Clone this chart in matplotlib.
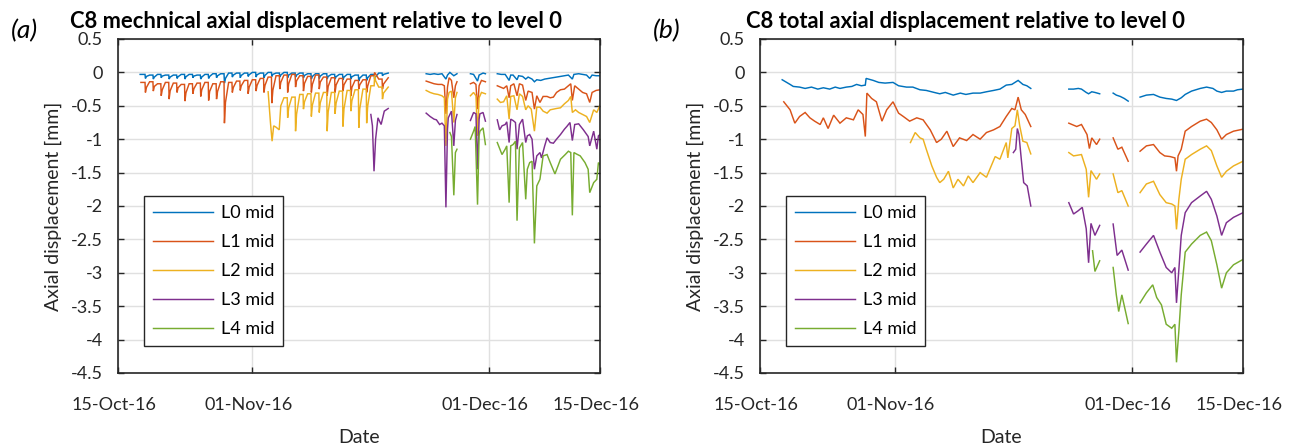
import numpy as np
import matplotlib
matplotlib.use('Agg')
import matplotlib.pyplot as plt
import matplotlib.dates as mdates
import matplotlib.transforms as mtransforms
from datetime import datetime

plt.rcParams['font.family'] = ['Lato', 'DejaVu Sans']

# ---------------- data ----------------
START = datetime(2016, 10, 15)
X_LIMITS = [datetime(2016, 10, 15), datetime(2016, 12, 15)]
X_TICK_DATES = [datetime(2016, 10, 15), datetime(2016, 11, 1), datetime(2016, 12, 1), datetime(2016, 12, 15)]
X_TICK_LABELS = ['15-Oct-16', '01-Nov-16', '01-Dec-16', '15-Dec-16']
Y_TICKS = [0.5, 0, -0.5, -1, -1.5, -2, -2.5, -3, -3.5, -4, -4.5]
Y_TICK_LABELS = ['0.5', '0', '-0.5', '-1', '-1.5', '-2', '-2.5', '-3', '-3.5', '-4', '-4.5']
SERIES_NAMES = ['L0 mid', 'L1 mid', 'L2 mid', 'L3 mid', 'L4 mid']
COLORS = ['#0072BD', '#D95319', '#EDB120', '#7E2F8E', '#77AC30']
TITLES = ['C8 mechnical axial displacement relative to level 0',
          'C8 total axial displacement relative to level 0']
PANEL_TAGS = ['(a)', '(b)']

# Mechanical, first block: daily (day since 15-Oct, baseline, daily dip)
MECH_DAYS_1 = [3, 4, 5, 6, 7, 8, 9, 10, 11, 12, 13, 14, 15, 16, 17, 18, 19, 20, 21, 22,
               23, 24, 25, 26, 27, 28, 29, 30, 31, 32, 33]
MECH_L0_BASE_1 = [-0.03, -0.04, -0.03, -0.04, -0.04, -0.03, -0.03, -0.04, -0.03, -0.02, -0.02,
                  -0.01, -0.01, -0.01, 0.0, -0.01, 0.0, -0.01, 0.0, -0.01, -0.01, -0.02, -0.02,
                  -0.02, -0.03, -0.03, -0.03, -0.04, -0.04, -0.03, -0.01]
MECH_L0_DIP_1 = [-0.09, -0.1, -0.08, -0.1, -0.09, -0.1, -0.08, -0.1, -0.09, -0.08, -0.16,
                 -0.07, -0.08, -0.06, -0.07, -0.08, -0.06, -0.07, -0.08, -0.07, -0.08, -0.1,
                 -0.09, -0.1, -0.1, -0.11, -0.1, -0.13, -0.12, -0.1, -0.05]
MECH_L1_BASE_1 = [-0.15, -0.14, -0.17, -0.15, -0.16, -0.18, -0.17, -0.16, -0.15, -0.17, -0.14,
                  -0.15, -0.13, -0.12, -0.11, -0.09, -0.07, -0.05, -0.04, -0.03, -0.05, -0.06,
                  -0.04, -0.07, -0.08, -0.09, -0.1, -0.12, -0.11, -0.05, -0.1]
MECH_L1_DIP_1 = [-0.3, -0.28, -0.35, -0.4, -0.3, -0.43, -0.32, -0.36, -0.42, -0.4, -0.76,
                 -0.3, -0.27, -0.32, -0.28, -0.3, -0.46, -0.25, -0.3, -0.22, -0.28, -0.3,
                 -0.25, -0.35, -0.3, -0.28, -0.35, -0.25, -0.3, 0.0, -0.25]
MECH_L2_DAYS_1 = [21, 22, 23, 24, 25, 26, 27, 28, 29, 30, 31, 32, 33]
MECH_L2_BASE_1 = [-0.38, -0.37, -0.33, -0.32, -0.31, -0.3, -0.3, -0.28, -0.27, -0.26, -0.25, -0.2, -0.22]
MECH_L2_DIP_1 = [-0.68, -0.88, -0.55, -0.66, -0.6, -0.88, -0.62, -0.81, -0.58, -0.83, -0.76, -0.05, -0.4]
MECH_L2_LEAD_1 = [(19.0, -0.29), (19.3, -0.76), (19.5, -1.03), (19.7, -0.8), (20.0, -0.82),
                  (20.4, -0.86), (20.6, -0.5)]

# Mechanical, later blocks: (day since 15-Oct, value); None = data gap
MECH_L0_LATE = [(39.0, -0.02), (39.5, -0.03), (40.0, -0.02), (40.5, -0.03), (41.0, -0.02),
                (41.5, -0.1), (41.7, -0.04), (42.0, 0.0), (42.5, -0.05), (42.9, -0.02), None,
                (44.6, -0.02), (45.0, -0.03), (45.5, -0.13), (45.7, -0.04), (46.2, -0.01),
                (46.5, -0.02), None,
                (48.0, -0.02), (48.5, -0.03), (49.0, -0.03), (49.5, -0.12), (49.7, -0.04),
                (50.0, -0.04), (50.5, -0.11), (50.7, -0.05), (51.2, -0.06), (51.6, -0.1),
                (51.9, -0.07), (52.4, -0.1), (52.7, -0.14), (53.0, -0.11), (53.5, -0.12),
                (54.0, -0.1), (54.5, -0.09), (55.0, -0.08), (55.5, -0.07), (56.0, -0.06),
                (56.5, -0.05), (57.0, -0.04), (57.5, -0.1), (57.7, -0.03), (58.3, -0.02),
                (58.8, -0.03), (59.3, -0.04), (59.7, -0.09), (60.0, -0.04), (60.5, -0.05),
                (61.0, -0.05)]
MECH_L1_LATE = [(39.0, -0.13), (39.5, -0.15), (40.0, -0.17), (40.5, -0.18), (41.0, -0.18),
                (41.3, -0.2), (41.5, -0.62), (41.7, -0.22), (41.9, -0.08), (42.2, -0.12),
                (42.5, -0.38), (42.7, -0.2), (42.9, -0.14), None,
                (44.6, -0.17), (45.0, -0.15), (45.3, -0.18), (45.5, -0.55), (45.7, -0.2),
                (46.0, -0.12), (46.5, -0.14), None,
                (48.0, -0.2), (48.4, -0.22), (48.8, -0.24), (49.2, -0.2), (49.5, -0.38),
                (49.7, -0.2), (50.1, -0.17), (50.5, -0.35), (50.8, -0.17), (51.2, -0.19),
                (51.6, -0.42), (51.9, -0.28), (52.4, -0.3), (52.7, -0.55), (53.0, -0.35),
                (53.4, -0.45), (53.8, -0.36), (54.3, -0.36), (54.7, -0.38), (55.1, -0.37),
                (55.5, -0.3), (56.0, -0.26), (56.5, -0.25), (57.0, -0.2), (57.3, -0.17),
                (57.5, -0.42), (57.8, -0.2), (58.3, -0.25), (58.8, -0.3), (59.3, -0.32),
                (59.7, -0.45), (60.0, -0.3), (60.5, -0.27), (61.0, -0.26)]
MECH_L2_LATE = [(39.0, -0.27), (39.5, -0.3), (40.0, -0.32), (40.5, -0.33), (41.0, -0.35),
                (41.3, -0.38), (41.5, -1.1), (41.7, -0.4), (41.9, -0.3), (42.2, -0.28),
                (42.5, -0.75), (42.7, -0.38), (42.9, -0.3), None,
                (44.6, -0.35), (45.0, -0.3), (45.3, -0.35), (45.5, -0.95), (45.7, -0.38),
                (46.0, -0.3), (46.5, -0.32), None,
                (48.0, -0.4), (48.4, -0.45), (48.8, -0.44), (49.2, -0.35), (49.5, -0.7),
                (49.7, -0.36), (50.1, -0.35), (50.5, -0.56), (50.8, -0.32), (51.2, -0.36),
                (51.6, -0.56), (51.9, -0.5), (52.3, -0.55), (52.7, -0.88), (53.0, -0.52),
                (53.4, -0.52), (53.8, -0.58), (54.3, -0.61), (54.7, -0.56), (55.1, -0.55),
                (55.5, -0.54), (56.0, -0.53), (56.5, -0.47), (57.0, -0.42), (57.3, -0.36),
                (57.5, -0.6), (57.9, -0.56), (58.3, -0.6), (58.8, -0.63), (59.3, -0.66),
                (59.7, -0.75), (60.2, -0.56), (60.6, -0.6), (61.0, -0.49)]
MECH_L3 = [(32.0, -0.63), (32.2, -0.8), (32.4, -1.48), (32.6, -1.0), (32.9, -0.68),
           (33.3, -0.78), (33.7, -0.58), (34.2, -0.54), None,
           (39.0, -0.61), (39.5, -0.66), (40.0, -0.7), (40.3, -0.71), (40.7, -0.78),
           (41.0, -0.76), (41.3, -0.8), (41.5, -2.02), (41.7, -0.85), (41.8, -0.68),
           (42.2, -0.58), (42.5, -1.1), (42.7, -0.72), (42.9, -0.63), None,
           (44.6, -0.72), (45.0, -0.6), (45.3, -0.62), (45.5, -1.45), (45.7, -0.7),
           (45.8, -0.62), (46.2, -0.6), (46.5, -0.73), None,
           (48.0, -0.71), (48.3, -0.86), (48.6, -0.8), (49.0, -0.78), (49.2, -0.74),
           (49.5, -1.05), (49.7, -0.7), (50.0, -0.72), (50.3, -0.75), (50.5, -1.15),
           (50.8, -0.78), (51.2, -0.7), (51.6, -1.05), (51.8, -0.95), (52.1, -0.93),
           (52.4, -1.0), (52.7, -1.45), (53.0, -1.25), (53.4, -1.2), (53.6, -1.28),
           (54.0, -1.1), (54.3, -0.98), (54.7, -1.05), (55.1, -1.06), (55.5, -1.0),
           (56.0, -0.93), (56.5, -0.85), (56.8, -0.81), (57.2, -0.75), (57.5, -1.02),
           (57.8, -0.78), (58.3, -0.77), (58.9, -0.86), (59.5, -0.96), (59.7, -1.1),
           (60.2, -0.88), (60.6, -1.15), (60.8, -0.95), (61.0, -0.93)]
MECH_L4 = [(42.0, -0.9), (42.2, -0.96), (42.5, -1.84), (42.7, -1.2), (42.9, -1.15), None,
           (44.6, -1.0), (45.0, -0.88), (45.2, -0.81), (45.5, -1.98), (45.7, -0.95),
           (45.8, -0.88), (46.2, -0.83), (46.5, -1.08), None,
           (48.0, -1.05), (48.6, -1.23), (49.0, -1.15), (49.2, -1.1), (49.5, -1.95),
           (49.7, -1.1), (50.0, -1.08), (50.3, -1.03), (50.5, -2.22), (50.8, -1.13),
           (51.2, -1.05), (51.6, -1.9), (51.8, -1.45), (52.1, -1.35), (52.4, -1.33),
           (52.7, -2.56), (53.0, -1.7), (53.4, -1.6), (53.8, -1.25), (54.3, -1.23),
           (54.7, -1.35), (55.3, -1.52), (56.0, -1.3), (56.6, -1.23), (57.0, -1.18),
           (57.3, -1.2), (57.5, -2.14), (57.7, -1.2), (58.0, -1.22), (58.5, -1.25),
           (59.1, -1.35), (59.5, -1.45), (59.7, -1.8), (60.2, -1.65), (60.6, -1.6),
           (60.8, -1.35), (61.0, -1.38)]

# Total displacement: (day since 15-Oct, value); None = data gap
TOT_L0 = [(2.8, -0.11), (3.8, -0.18), (4.2, -0.21), (5.0, -0.22), (5.7, -0.24), (6.5, -0.22),
          (7.3, -0.25), (8.0, -0.23), (8.8, -0.25), (9.5, -0.22), (10.1, -0.24), (10.9, -0.22),
          (11.6, -0.21), (12.2, -0.18), (12.8, -0.2), (13.3, -0.19), (13.4, -0.09),
          (14.3, -0.12), (15.0, -0.15), (15.8, -0.16), (16.8, -0.15), (17.5, -0.2),
          (18.5, -0.22), (19.3, -0.22), (20.2, -0.26), (21.0, -0.27), (22.0, -0.3),
          (22.7, -0.32), (23.4, -0.3), (24.4, -0.34), (25.3, -0.31), (26.0, -0.33),
          (26.9, -0.31), (27.8, -0.31), (28.6, -0.29), (29.5, -0.27), (30.3, -0.25),
          (31.1, -0.19), (31.8, -0.18), (32.6, -0.12), (33.2, -0.18), (33.7, -0.2),
          (34.2, -0.24), None,
          (39.0, -0.25), (39.6, -0.25), (40.2, -0.24), (40.6, -0.25), (41.2, -0.3),
          (41.5, -0.32), (41.9, -0.29), (42.3, -0.3), (42.9, -0.32), None,
          (44.6, -0.31), (45.0, -0.34), (45.5, -0.36), (46.0, -0.39), (46.5, -0.43), None,
          (48.0, -0.37), (48.8, -0.34), (49.7, -0.33), (50.5, -0.37), (51.3, -0.39),
          (52.0, -0.4), (52.6, -0.42), (53.2, -0.38), (53.7, -0.33), (54.5, -0.28),
          (55.6, -0.24), (56.4, -0.22), (56.8, -0.23), (57.2, -0.24), (57.7, -0.28),
          (58.3, -0.3), (58.9, -0.28), (59.8, -0.28), (60.3, -0.26), (61.0, -0.25)]
TOT_L1 = [(3.0, -0.44), (3.4, -0.5), (3.8, -0.56), (4.4, -0.76), (5.0, -0.66), (5.7, -0.6),
          (6.3, -0.68), (6.9, -0.73), (7.6, -0.78), (8.0, -0.68), (8.6, -0.84), (9.3, -0.64),
          (10.1, -0.76), (10.9, -0.68), (11.8, -0.71), (12.4, -0.56), (13.0, -0.63),
          (13.3, -0.96), (13.5, -0.31), (14.1, -0.39), (14.7, -0.44), (15.4, -0.73),
          (16.0, -0.56), (16.8, -0.44), (17.5, -0.61), (18.1, -0.66), (18.9, -0.73),
          (19.8, -0.68), (20.6, -0.71), (21.5, -0.86), (22.3, -1.05), (22.9, -1.0),
          (23.6, -0.88), (24.4, -1.11), (25.2, -0.98), (26.1, -1.02), (26.9, -0.93),
          (27.8, -1.0), (28.6, -0.9), (29.5, -0.86), (30.3, -0.81), (31.1, -0.66),
          (31.8, -0.54), (32.2, -0.56), (32.6, -0.37), (33.0, -0.56), (33.5, -0.63),
          (34.2, -0.81), None,
          (39.0, -0.76), (40.0, -0.81), (40.6, -0.78), (41.3, -0.93), (41.6, -1.14),
          (41.9, -0.98), (42.5, -1.08), (42.9, -1.0), None,
          (44.6, -0.98), (45.2, -1.15), (45.7, -1.12), (46.5, -1.33), None,
          (48.0, -1.18), (48.8, -1.1), (49.7, -1.08), (50.5, -1.2), (51.1, -1.25),
          (51.8, -1.26), (52.4, -1.28), (52.6, -1.48), (52.8, -1.25), (53.2, -1.15),
          (53.7, -0.88), (54.5, -0.81), (55.6, -0.73), (56.4, -0.7), (57.0, -0.75),
          (57.7, -0.86), (58.3, -1.0), (58.9, -0.93), (59.8, -0.88), (61.0, -0.85)]
TOT_L2 = [(19.0, -1.05), (19.6, -0.9), (20.2, -0.98), (20.6, -1.0), (21.0, -1.15), (21.7, -1.4),
          (22.3, -1.57), (22.7, -1.65), (23.2, -1.6), (23.8, -1.48), (24.4, -1.73),
          (25.0, -1.6), (25.7, -1.7), (26.3, -1.55), (26.9, -1.65), (27.8, -1.5),
          (28.6, -1.57), (29.7, -1.26), (30.3, -1.3), (31.1, -1.05), (31.3, -1.28),
          (31.8, -0.84), (32.2, -0.8), (32.5, -0.56), (32.8, -0.8), (33.2, -1.03),
          (33.7, -1.05), (34.2, -1.22), None,
          (39.0, -1.2), (39.6, -1.25), (40.6, -1.23), (41.2, -1.45), (41.5, -1.87),
          (41.8, -1.47), (42.5, -1.6), (42.9, -1.52), None,
          (44.6, -1.52), (45.2, -1.8), (45.7, -1.77), (46.5, -2.0), None,
          (48.0, -1.8), (48.8, -1.67), (49.7, -1.63), (50.5, -1.83), (51.3, -1.95),
          (52.0, -1.97), (52.4, -2.0), (52.6, -2.35), (52.9, -1.9), (53.2, -1.6),
          (53.7, -1.3), (54.5, -1.23), (55.6, -1.15), (56.4, -1.1), (57.0, -1.17),
          (57.7, -1.4), (58.3, -1.57), (58.9, -1.48), (59.8, -1.4), (61.0, -1.33)]
TOT_L3 = [(32.0, -1.2), (32.3, -1.15), (32.5, -0.84), (32.7, -0.93), (33.0, -1.3),
          (33.3, -1.65), (33.75, -1.7), (34.2, -2.0), None,
          (39.0, -1.95), (39.6, -2.12), (40.2, -2.07), (40.7, -2.02), (41.2, -2.34),
          (41.5, -2.85), (41.8, -2.26), (42.3, -2.44), (42.9, -2.29), None,
          (44.6, -2.27), (45.1, -2.74), (45.7, -2.66), (46.5, -2.96), None,
          (48.0, -2.69), (48.8, -2.57), (49.7, -2.44), (50.5, -2.69), (51.3, -2.92),
          (52.0, -3.0), (52.4, -2.92), (52.6, -3.45), (52.9, -2.95), (53.2, -2.44),
          (53.7, -2.1), (54.5, -1.95), (55.6, -1.85), (56.4, -1.78), (57.0, -1.9),
          (57.7, -2.15), (58.3, -2.44), (58.9, -2.25), (59.8, -2.17), (61.0, -2.1)]
TOT_L4 = [(42.0, -2.67), (42.3, -2.98), (42.9, -2.82), None,
          (44.6, -2.92), (45.0, -3.33), (45.3, -3.58), (45.7, -3.33), (46.5, -3.76), None,
          (48.0, -3.45), (48.8, -3.3), (49.6, -3.18), (50.1, -3.37), (50.7, -3.48),
          (51.3, -3.77), (52.0, -3.83), (52.4, -3.77), (52.6, -4.34), (52.9, -3.87),
          (53.2, -3.33), (53.7, -2.69), (54.5, -2.57), (55.6, -2.44), (56.4, -2.39),
          (57.0, -2.52), (57.7, -2.88), (58.3, -3.23), (58.9, -3.0), (59.8, -2.88),
          (61.0, -2.8)]


# ---------------- helpers ----------------
def daily_block(days, base, dip):
    """Daily cycle: steady level, sharp dip, partial recovery."""
    out = []
    for k, b, d in zip(days, base, dip):
        out += [(k, b), (k + 0.42, b), (k + 0.47, d), (k + 0.6, (b + d) / 2)]
    return out


def to_xy(pairs):
    x, y = [], []
    for p in pairs:
        if p is None:
            x.append(np.nan)
            y.append(np.nan)
        else:
            x.append(p[0])
            y.append(p[1])
    x0 = mdates.date2num(START)
    return x0 + np.array(x, dtype=float), np.array(y, dtype=float)


mech_series = [
    [(2.8, -0.03)] + daily_block(MECH_DAYS_1, MECH_L0_BASE_1, MECH_L0_DIP_1) + [(34.2, -0.01), None] + MECH_L0_LATE,
    [(2.9, -0.15)] + daily_block(MECH_DAYS_1, MECH_L1_BASE_1, MECH_L1_DIP_1) + [(34.2, -0.08), None] + MECH_L1_LATE,
    MECH_L2_LEAD_1 + daily_block(MECH_L2_DAYS_1, MECH_L2_BASE_1, MECH_L2_DIP_1) + [(34.2, -0.22), None] + MECH_L2_LATE,
    MECH_L3,
    MECH_L4,
]
tot_series = [TOT_L0, TOT_L1, TOT_L2, TOT_L3, TOT_L4]

# ---------------- figure ----------------
W, H = 1290, 446
fig = plt.figure(figsize=(W / 100, H / 100), dpi=100)
ax1 = fig.add_axes([118 / W, 73 / H, 482 / W, 334 / H])
ax2 = fig.add_axes([760 / W, 73 / H, 483 / W, 334 / H])

# title size chosen so that the visible title prefixes span their widths in the reference
renderer = fig.canvas.get_renderer()
probe_sizes = []
for prefix, target in [('C8 mechnical axial displacement rel', 350),
                       ('C8 total axial displacement relat', 314)]:
    t = fig.text(0, 0, prefix, fontsize=10, fontweight='bold')
    probe_sizes.append(10 * target / t.get_window_extent(renderer).width)
    t.remove()
TITLE_SIZE = float(np.mean(probe_sizes))

DARK = '#262626'
label_shift = mtransforms.ScaledTranslation(-4 / 100, 0, fig.dpi_scale_trans)
for ax, series, title, tag, tagx, titlex in [(ax1, mech_series, TITLES[0], PANEL_TAGS[0], 24, 70),
                                             (ax2, tot_series, TITLES[1], PANEL_TAGS[1], 667, 746)]:
    for pairs, name, col in zip(series, SERIES_NAMES, COLORS):
        x, y = to_xy(pairs)
        ax.plot(x, y, color=col, lw=1.05, label=name, solid_joinstyle='miter')
    ax.set_xlim(mdates.date2num(X_LIMITS[0]), mdates.date2num(X_LIMITS[1]))
    ax.set_ylim(-4.5, 0.5)
    ax.set_xticks(mdates.date2num(X_TICK_DATES))
    ax.set_xticklabels(X_TICK_LABELS)
    ax.set_yticks(Y_TICKS)
    ax.set_yticklabels(Y_TICK_LABELS)
    ax.grid(True, color='#e0e0e0', lw=1.0)
    ax.set_axisbelow(True)
    ax.tick_params(direction='in', length=4, width=1, top=True, right=True,
                   colors=DARK, labelsize=13)
    ax.tick_params(axis='x', pad=17)
    ax.tick_params(axis='y', pad=11)
    for lbl in ax.get_xticklabels():
        lbl.set_transform(lbl.get_transform() + label_shift)
    for s in ax.spines.values():
        s.set_color(DARK)
        s.set_linewidth(1.2)
    ax.set_xlabel('Date', fontsize=14, color=DARK, labelpad=12)
    ax.set_ylabel('Axial displacement [mm]', fontsize=14, color=DARK, labelpad=6)
    fig.text(titlex / W, 1 - 28 / H, title, ha='left', va='baseline',
             fontsize=TITLE_SIZE, fontweight='bold', color='black')
    fig.text(tagx / W, 1 - 31 / H, tag, ha='center', va='center',
             fontsize=19, style='italic', color='black')
    leg = ax.legend(loc='upper left', bbox_to_anchor=(0.054, 0.53), borderaxespad=0,
                    fontsize=13, handlelength=3.3, handletextpad=0.45, labelspacing=0.72,
                    borderpad=0.5, fancybox=False, framealpha=1, edgecolor=DARK)
    leg.get_frame().set_linewidth(1.0)

fig.savefig('out.png', dpi=100)
